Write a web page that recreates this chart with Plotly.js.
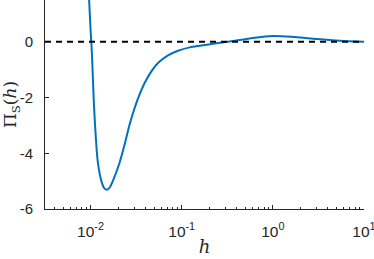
<!DOCTYPE html>
<html><head><meta charset="utf-8">
<script src="https://cdn.plot.ly/plotly-3.0.1.min.js"></script>
<style>html,body{margin:0;padding:0;background:#fff}#c{width:374px;height:259px}</style>
</head><body><div id="c"></div>
<script>
const logH = [-2.022, -2.000, -1.992, -1.981, -1.967, -1.948, -1.920, -1.882, -1.852, -1.821, -1.788, -1.755, -1.681, -1.626, -1.571, -1.516, -1.462, -1.407, -1.333, -1.260, -1.151, -1.041, -0.912, -0.802, -0.656, -0.473, -0.253, 0, 0.242, 0.484, 0.736, 1.0];
const piS  = [1.9, 0.43, 0, -0.76, -1.95, -3.14, -4.33, -4.99, -5.24, -5.31, -5.22, -4.99, -4.33, -3.68, -2.96, -2.37, -1.89, -1.48, -1.06, -0.76, -0.49, -0.32, -0.20, -0.14, -0.07, 0.01, 0.12, 0.21, 0.17, 0.10, 0.04, 0.0];
const h = logH.map(v => Math.pow(10, v));
const xTickVals = [0.01, 0.1, 1, 10];
const xTickText = ['10<sup>-2</sup>', '10<sup>-1</sup>', '10<sup>0</sup>', '10<sup>1</sup>'];
const yTickVals = [-6, -4, -2, 0];
const yTickText = ['-6', '-4', '-2', '0'];

const axCol = '#262626';
Plotly.newPlot('c', [{
  x: h, y: piS, type: 'scatter', mode: 'lines',
  line: {color: '#0072BD', width: 2, shape: 'spline', smoothing: 0.8}
}], {
  width: 374, height: 259,
  margin: {l: 45, r: 10, t: 0, b: 50},
  paper_bgcolor: '#fff', plot_bgcolor: '#fff',
  showlegend: false,
  font: {family: 'Liberation Sans, Arial, sans-serif', size: 15, color: axCol},
  xaxis: {
    type: 'log', range: [-2.5, 1],
    tickvals: xTickVals, ticktext: xTickText,
    tickfont: {family: 'Liberation Sans, Arial, sans-serif', size: 15.5, color: axCol},
    ticklabeloverflow: 'allow',
    ticks: 'inside', ticklen: 4, tickcolor: axCol, ticklabelstandoff: 8,
    showline: true, linecolor: axCol, linewidth: 1,
    showgrid: false, zeroline: false,
    minor: {ticks: 'inside', ticklen: 2, tickcolor: axCol, dtick: 'D1', showgrid: false},
    title: {text: '<i>h</i>', font: {family: 'DejaVu Serif, serif', size: 18, color: axCol}, standoff: 1}
  },
  yaxis: {
    range: [-6, 1.5],
    tickvals: yTickVals, ticktext: yTickText,
    tickfont: {family: 'Liberation Sans, Arial, sans-serif', size: 15, color: axCol},
    ticks: 'inside', ticklen: 4, tickcolor: axCol, ticklabelstandoff: 8,
    showline: true, linecolor: axCol, linewidth: 1,
    showgrid: false, zeroline: false,
    title: {text: 'Π<sub>S</sub>(<i>h</i>)', font: {family: 'DejaVu Serif, serif', size: 17, color: axCol}, standoff: 0}
  },
  shapes: [{
    type: 'line', xref: 'paper', yref: 'y', x0: 0, x1: 1, y0: 0, y1: 0,
    line: {color: '#000', width: 2, dash: '6px,5px'}
  }]
}, {displayModeBar: false, staticPlot: true});
</script></body></html>
